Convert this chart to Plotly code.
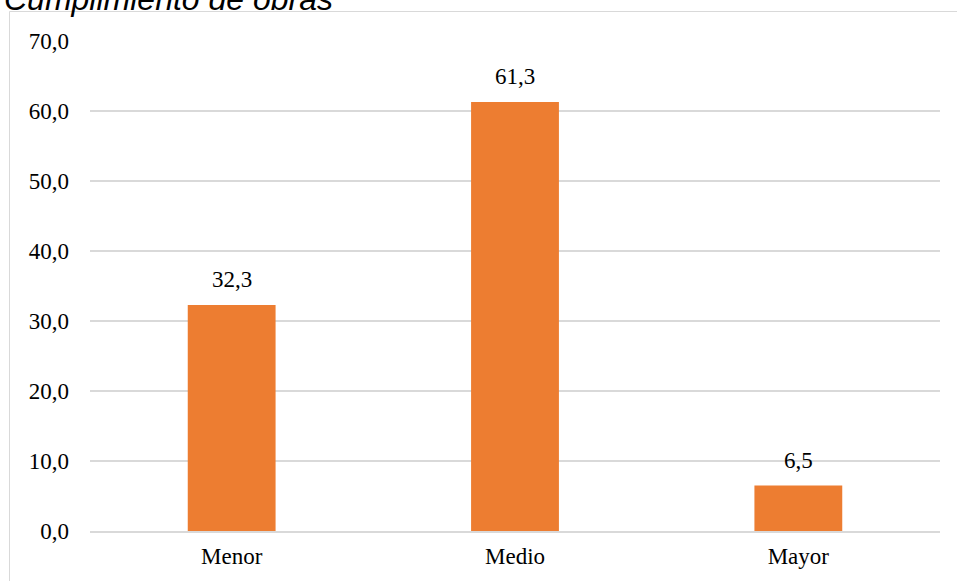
import plotly.graph_objects as go

categories = ["Menor", "Medio", "Mayor"]
values = [32.3, 61.3, 6.5]
tick_vals = [0, 10, 20, 30, 40, 50, 60, 70]
tick_text = ["0,0", "10,0", "20,0", "30,0", "40,0", "50,0", "60,0", "70,0"]
value_labels = ["32,3", "61,3", "6,5"]
title_text = "Cumplimiento de obras"

W, H = 957, 581
L, R, T, B = 90, 17, 41, 50
pw, ph = W - L - R, H - T - B

def px_x(px):
    return (px - L) / pw

def px_y(py):
    return (H - B - py) / ph

serif = "Liberation Serif, Times New Roman, serif"

fig = go.Figure()
fig.add_trace(go.Bar(
    x=categories, y=values,
    marker=dict(color="#ED7D31", line=dict(width=0)),
    hoverinfo="skip",
))

for c, v, t in zip(categories, values, value_labels):
    fig.add_annotation(x=c, y=v, text=t, showarrow=False, yanchor="bottom",
                       yshift=11, font=dict(family=serif, size=23, color="#000000"))

fig.add_annotation(xref="paper", yref="paper", x=px_x(2), y=px_y(19),
                   xanchor="left", yanchor="bottom", text="<i>" + title_text + "</i>",
                   showarrow=False,
                   font=dict(family="Liberation Sans, Arial, sans-serif", size=32, color="#000000"))

fig.add_shape(type="rect", xref="paper", yref="paper",
              x0=px_x(9.5), y0=px_y(H + 20), x1=px_x(W + 20), y1=px_y(11.5),
              line=dict(color="#d9d9d9", width=1), fillcolor="rgba(0,0,0,0)", layer="below")

fig.update_layout(
    width=W, height=H,
    margin=dict(l=L, r=R, t=T, b=B, pad=0, autoexpand=False),
    paper_bgcolor="white", plot_bgcolor="white",
    bargap=0.69,
    showlegend=False,
    xaxis=dict(showgrid=False, showline=True, linecolor="#d9d9d9", linewidth=1.5,
               automargin=False,
               ticks="", tickfont=dict(family=serif, size=23, color="#000000"),
               ticklabelstandoff=4),
    yaxis=dict(range=[0, 70], tickvals=tick_vals, ticktext=tick_text,
               automargin=False,
               showgrid=True, gridcolor="#d9d9d9", gridwidth=1.5,
               zeroline=False, showline=False, ticks="",
               tickfont=dict(family=serif, size=23, color="#000000"),
               ticklabelstandoff=20),
)

fig.write_html("out.html", config={"displayModeBar": False},
               post_script="document.body.style.margin='0';document.body.style.overflow='hidden';")
